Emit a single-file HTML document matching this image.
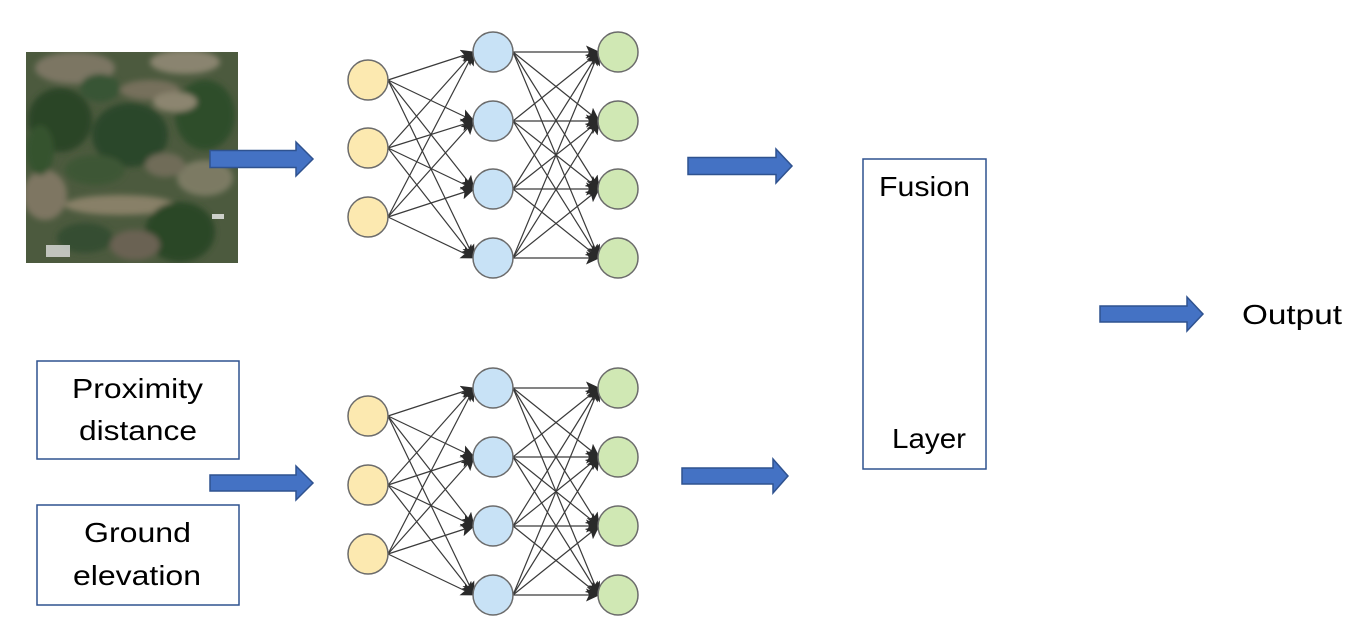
<!DOCTYPE html>
<html><head><meta charset="utf-8"><style>
html,body{margin:0;padding:0;background:#fff;width:1370px;height:638px;overflow:hidden}
text{font-family:"Liberation Sans",sans-serif;fill:#000}
</style></head><body>
<svg width="1370" height="638" viewBox="0 0 1370 638" xmlns="http://www.w3.org/2000/svg">
<defs>
<marker id="ah" markerUnits="userSpaceOnUse" markerWidth="15" markerHeight="13" refX="13" refY="6.5" orient="auto">
<path d="M0,0 L14,6.5 L0,13 L3,6.5 Z" fill="#2a2a2a"/>
</marker>
<clipPath id="ic"><rect x="26" y="52" width="212" height="211"/></clipPath>
<filter id="bl"><feGaussianBlur stdDeviation="3"/></filter>
</defs>

<!-- satellite image approximation -->
<g clip-path="url(#ic)">
<rect x="26" y="52" width="212" height="211" fill="#4c5a3e"/>
<g filter="url(#bl)">
<ellipse cx="75" cy="68" rx="40" ry="16" fill="#7c7664"/>
<ellipse cx="185" cy="62" rx="35" ry="12" fill="#8a8470"/>
<ellipse cx="150" cy="90" rx="30" ry="10" fill="#766f5c"/>
<ellipse cx="60" cy="120" rx="32" ry="32" fill="#2a4428"/>
<ellipse cx="130" cy="135" rx="38" ry="32" fill="#2b4629"/>
<ellipse cx="205" cy="115" rx="30" ry="35" fill="#2f4e2b"/>
<ellipse cx="175" cy="102" rx="22" ry="10" fill="#8c8570"/>
<ellipse cx="45" cy="195" rx="22" ry="25" fill="#7e7662"/>
<ellipse cx="120" cy="205" rx="55" ry="10" fill="#888068"/>
<ellipse cx="205" cy="178" rx="28" ry="18" fill="#7c7a64"/>
<ellipse cx="180" cy="232" rx="35" ry="30" fill="#2a4628"/>
<ellipse cx="85" cy="238" rx="28" ry="15" fill="#344e30"/>
<ellipse cx="135" cy="245" rx="25" ry="15" fill="#6a6252"/>
<ellipse cx="40" cy="150" rx="14" ry="25" fill="#35532f"/>
<ellipse cx="100" cy="88" rx="20" ry="14" fill="#385436"/>
<ellipse cx="95" cy="170" rx="30" ry="15" fill="#3e5636"/>
<ellipse cx="165" cy="165" rx="20" ry="12" fill="#6f6c58"/>
</g>
<rect x="46" y="245" width="24" height="12" fill="#e8e8e8" opacity="0.75"/>
<rect x="212" y="214" width="12" height="5" fill="#eeeeee" opacity="0.8"/>
</g>

<!-- block arrows -->
<g fill="#4472c4" stroke="#2f528f" stroke-width="1.5">
<path d="M210,150.5 L296,150.5 L296,142 L313,159 L296,176 L296,167.5 L210,167.5 Z"/>
<path d="M688,157.5 L776,157.5 L776,149 L792,166 L776,183 L776,174.5 L688,174.5 Z"/>
<path d="M210,475 L296,475 L296,466 L313,483 L296,500 L296,491 L210,491 Z"/>
<path d="M682,468 L773,468 L773,459 L788,476 L773,493 L773,484 L682,484 Z"/>
<path d="M1100,306 L1187,306 L1187,297 L1203,314 L1187,331 L1187,322 L1100,322 Z"/>
</g>

<!-- connections top -->
<g stroke="#3a3a3a" stroke-width="1.2" marker-end="url(#ah)">
<line x1="388" y1="80" x2="474" y2="52"/><line x1="388" y1="80" x2="474" y2="121"/><line x1="388" y1="80" x2="474" y2="189"/><line x1="388" y1="80" x2="474" y2="258"/>
<line x1="388" y1="148" x2="474" y2="52"/><line x1="388" y1="148" x2="474" y2="121"/><line x1="388" y1="148" x2="474" y2="189"/><line x1="388" y1="148" x2="474" y2="258"/>
<line x1="388" y1="217" x2="474" y2="52"/><line x1="388" y1="217" x2="474" y2="121"/><line x1="388" y1="217" x2="474" y2="189"/><line x1="388" y1="217" x2="474" y2="258"/>
<line x1="513" y1="52" x2="599" y2="52"/><line x1="513" y1="52" x2="599" y2="121"/><line x1="513" y1="52" x2="599" y2="189"/><line x1="513" y1="52" x2="599" y2="258"/>
<line x1="513" y1="121" x2="599" y2="52"/><line x1="513" y1="121" x2="599" y2="121"/><line x1="513" y1="121" x2="599" y2="189"/><line x1="513" y1="121" x2="599" y2="258"/>
<line x1="513" y1="189" x2="599" y2="52"/><line x1="513" y1="189" x2="599" y2="121"/><line x1="513" y1="189" x2="599" y2="189"/><line x1="513" y1="189" x2="599" y2="258"/>
<line x1="513" y1="258" x2="599" y2="52"/><line x1="513" y1="258" x2="599" y2="121"/><line x1="513" y1="258" x2="599" y2="189"/><line x1="513" y1="258" x2="599" y2="258"/>
</g>
<!-- connections bottom -->
<g stroke="#3a3a3a" stroke-width="1.2" marker-end="url(#ah)">
<line x1="388" y1="416" x2="474" y2="388"/><line x1="388" y1="416" x2="474" y2="457"/><line x1="388" y1="416" x2="474" y2="526"/><line x1="388" y1="416" x2="474" y2="595"/>
<line x1="388" y1="485" x2="474" y2="388"/><line x1="388" y1="485" x2="474" y2="457"/><line x1="388" y1="485" x2="474" y2="526"/><line x1="388" y1="485" x2="474" y2="595"/>
<line x1="388" y1="554" x2="474" y2="388"/><line x1="388" y1="554" x2="474" y2="457"/><line x1="388" y1="554" x2="474" y2="526"/><line x1="388" y1="554" x2="474" y2="595"/>
<line x1="513" y1="388" x2="599" y2="388"/><line x1="513" y1="388" x2="599" y2="457"/><line x1="513" y1="388" x2="599" y2="526"/><line x1="513" y1="388" x2="599" y2="595"/>
<line x1="513" y1="457" x2="599" y2="388"/><line x1="513" y1="457" x2="599" y2="457"/><line x1="513" y1="457" x2="599" y2="526"/><line x1="513" y1="457" x2="599" y2="595"/>
<line x1="513" y1="526" x2="599" y2="388"/><line x1="513" y1="526" x2="599" y2="457"/><line x1="513" y1="526" x2="599" y2="526"/><line x1="513" y1="526" x2="599" y2="595"/>
<line x1="513" y1="595" x2="599" y2="388"/><line x1="513" y1="595" x2="599" y2="457"/><line x1="513" y1="595" x2="599" y2="526"/><line x1="513" y1="595" x2="599" y2="595"/>
</g>

<!-- nodes -->
<g stroke="#6b6b6b" stroke-width="1.5">
<g fill="#fce9b0">
<circle cx="368" cy="80" r="20"/><circle cx="368" cy="148" r="20"/><circle cx="368" cy="217" r="20"/>
<circle cx="368" cy="416" r="20"/><circle cx="368" cy="485" r="20"/><circle cx="368" cy="554" r="20"/>
</g>
<g fill="#c8e2f6">
<circle cx="493" cy="52" r="20"/><circle cx="493" cy="121" r="20"/><circle cx="493" cy="189" r="20"/><circle cx="493" cy="258" r="20"/>
<circle cx="493" cy="388" r="20"/><circle cx="493" cy="457" r="20"/><circle cx="493" cy="526" r="20"/><circle cx="493" cy="595" r="20"/>
</g>
<g fill="#d0e8b4">
<circle cx="618" cy="52" r="20"/><circle cx="618" cy="121" r="20"/><circle cx="618" cy="189" r="20"/><circle cx="618" cy="258" r="20"/>
<circle cx="618" cy="388" r="20"/><circle cx="618" cy="457" r="20"/><circle cx="618" cy="526" r="20"/><circle cx="618" cy="595" r="20"/>
</g>
</g>

<!-- boxes -->
<g fill="#fff" stroke="#2f528f" stroke-width="1.5">
<rect x="37" y="361" width="202" height="98"/>
<rect x="37" y="505" width="202" height="100"/>
<rect x="863" y="159" width="123" height="310"/>
</g>

<g font-size="28">
<text x="72" y="398" textLength="131" lengthAdjust="spacingAndGlyphs">Proximity</text>
<text x="79" y="440" textLength="118" lengthAdjust="spacingAndGlyphs">distance</text>
<text x="84" y="542" textLength="107" lengthAdjust="spacingAndGlyphs">Ground</text>
<text x="73" y="585" textLength="128" lengthAdjust="spacingAndGlyphs">elevation</text>
<text x="879" y="196" textLength="91" lengthAdjust="spacingAndGlyphs">Fusion</text>
<text x="892" y="448" textLength="74" lengthAdjust="spacingAndGlyphs">Layer</text>
<text x="1242" y="324" textLength="100" lengthAdjust="spacingAndGlyphs">Output</text>
</g>
</svg>
</body></html>
